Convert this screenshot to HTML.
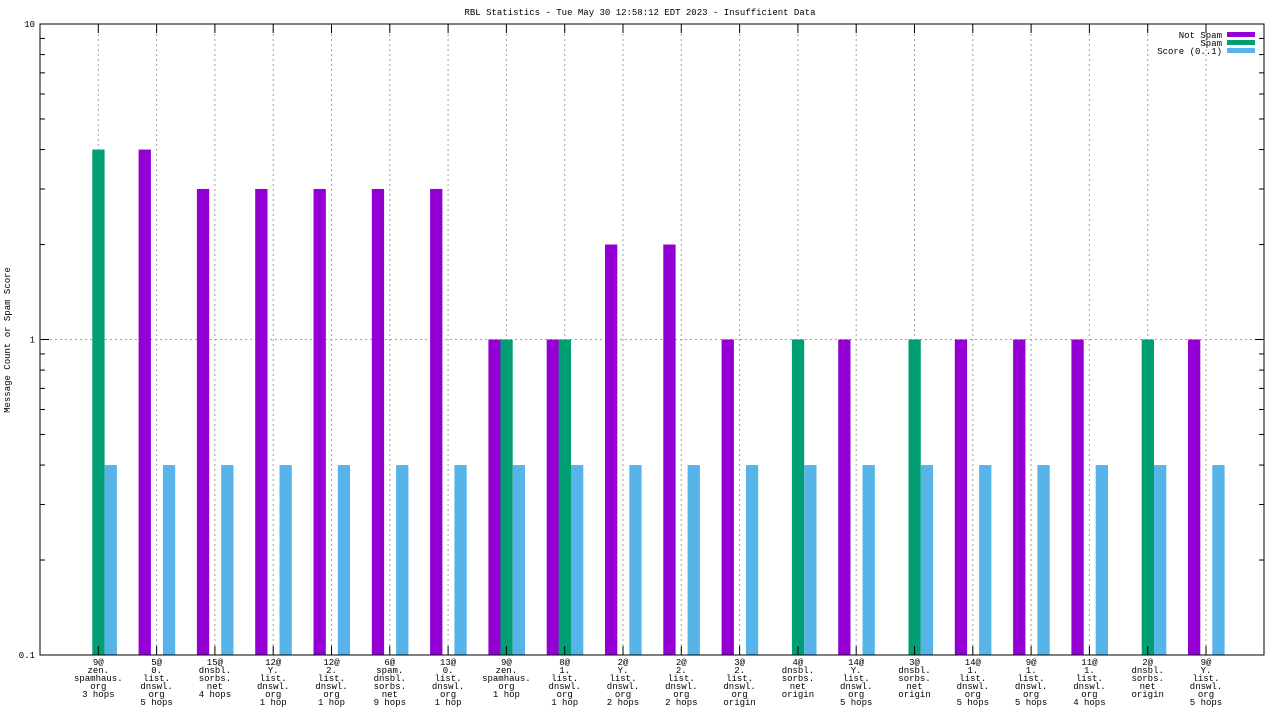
<!DOCTYPE html>
<html><head><meta charset="utf-8"><style>
body{margin:0;background:#fff}
svg text{font-family:"Liberation Mono",monospace;font-size:9px;fill:#000}
</style></head><body>
<svg id="c" width="1280" height="720"></svg>
<script>
const categories=[["9@","zen.","spamhaus.","org","3 hops"],["5@","0.","list.","dnswl.","org","5 hops"],["15@","dnsbl.","sorbs.","net","4 hops"],["12@","Y.","list.","dnswl.","org","1 hop"],["12@","2.","list.","dnswl.","org","1 hop"],["6@","spam.","dnsbl.","sorbs.","net","9 hops"],["13@","0.","list.","dnswl.","org","1 hop"],["9@","zen.","spamhaus.","org","1 hop"],["8@","1.","list.","dnswl.","org","1 hop"],["2@","Y.","list.","dnswl.","org","2 hops"],["2@","2.","list.","dnswl.","org","2 hops"],["3@","2.","list.","dnswl.","org","origin"],["4@","dnsbl.","sorbs.","net","origin"],["14@","Y.","list.","dnswl.","org","5 hops"],["3@","dnsbl.","sorbs.","net","origin"],["14@","1.","list.","dnswl.","org","5 hops"],["9@","1.","list.","dnswl.","org","5 hops"],["11@","1.","list.","dnswl.","org","4 hops"],["2@","dnsbl.","sorbs.","net","origin"],["9@","Y.","list.","dnswl.","org","5 hops"]];
const notSpam=[0,4,3,3,3,3,3,1,1,2,2,1,0,1,0,1,1,1,0,1];
const spam=[4,0,0,0,0,0,0,1,1,0,0,0,1,0,1,0,0,0,1,0];
const score=[0.4,0.4,0.4,0.4,0.4,0.4,0.4,0.4,0.4,0.4,0.4,0.4,0.4,0.4,0.4,0.4,0.4,0.4,0.4,0.4];
const yTicks=[0.1,1,10];
const yTickLabels=["0.1","1","10"];

const svg=document.getElementById('c');
const NS='http://www.w3.org/2000/svg';
const L=40,R=1264,T=24,B=655;
const y=v=>B-(Math.log10(v)+1)/2*(B-T);
const x=i=>98.3+i*58.3;
function el(tag,attrs,parent){const e=document.createElementNS(NS,tag);for(const k in attrs)e.setAttribute(k,attrs[k]);(parent||svg).appendChild(e);return e;}

const title=el('text',{x:640,y:15,'text-anchor':'middle'});title.textContent='RBL Statistics - Tue May 30 12:58:12 EDT 2023 - Insufficient Data';


const yl=el('text',{x:0,y:0,'text-anchor':'middle',transform:'translate(10,340) rotate(-90)'});yl.textContent='Message Count or Spam Score';



// grid
categories.forEach((c,i)=>{const g=el('line',{x1:x(i),x2:x(i),y1:T,y2:B,stroke:'#a0a0a0','stroke-dasharray':'2,3'});

});
const hg=el('line',{x1:L,x2:R,y1:y(1),y2:y(1),stroke:'#a0a0a0','stroke-dasharray':'2,3'});



// bars
const w=12.3;
function bar(i,v,off,col,name){if(v<=0)return;const r=el('rect',{x:x(i)+off,y:y(v),width:w,height:B-y(v),fill:col});

}
categories.forEach((c,i)=>{bar(i,notSpam[i],-18,'#9400d3','bar-not-spam');bar(i,spam[i],-6,'#009e73','bar-spam');bar(i,score[i],6.3,'#56b4e9','bar-score');});

// axes frame
const fr=el('rect',{x:L,y:T,width:R-L,height:B-T,fill:'none',stroke:'#000','stroke-width':1});


// y ticks
yTicks.forEach((v,k)=>{el('line',{x1:L,x2:L+9,y1:y(v),y2:y(v),stroke:'#000'});el('line',{x1:R,x2:R-9,y1:y(v),y2:y(v),stroke:'#000'});
const t=el('text',{x:L-5,y:y(v)+3,'text-anchor':'end'});t.textContent=yTickLabels[k];


if(v<10)for(let m=2;m<=9;m++){const yy=y(v*m);el('line',{x1:L,x2:L+5,y1:yy,y2:yy,stroke:'#000'});el('line',{x1:R,x2:R-5,y1:yy,y2:yy,stroke:'#000'});}});
// x ticks and labels
categories.forEach((c,i)=>{el('line',{x1:x(i),x2:x(i),y1:B,y2:B-9,stroke:'#000'});el('line',{x1:x(i),x2:x(i),y1:T,y2:T+9,stroke:'#000'});
const t=el('text',{x:x(i),y:665,'text-anchor':'middle'});


c.forEach((s,j)=>{const ts=el('tspan',{x:x(i),dy:j?8:0},t);ts.textContent=s;});});

// legend
const leg=[['Not Spam','#9400d3'],['Spam','#009e73'],['Score (0..1)','#56b4e9']];
leg.forEach((l,k)=>{const g=el('g',{});


const t=el('text',{x:1222,y:38+k*8,'text-anchor':'end'},g);t.textContent=l[0];
el('rect',{x:1227,y:32+k*8,width:28,height:5,fill:l[1]},g);});
</script>
</body></html>
